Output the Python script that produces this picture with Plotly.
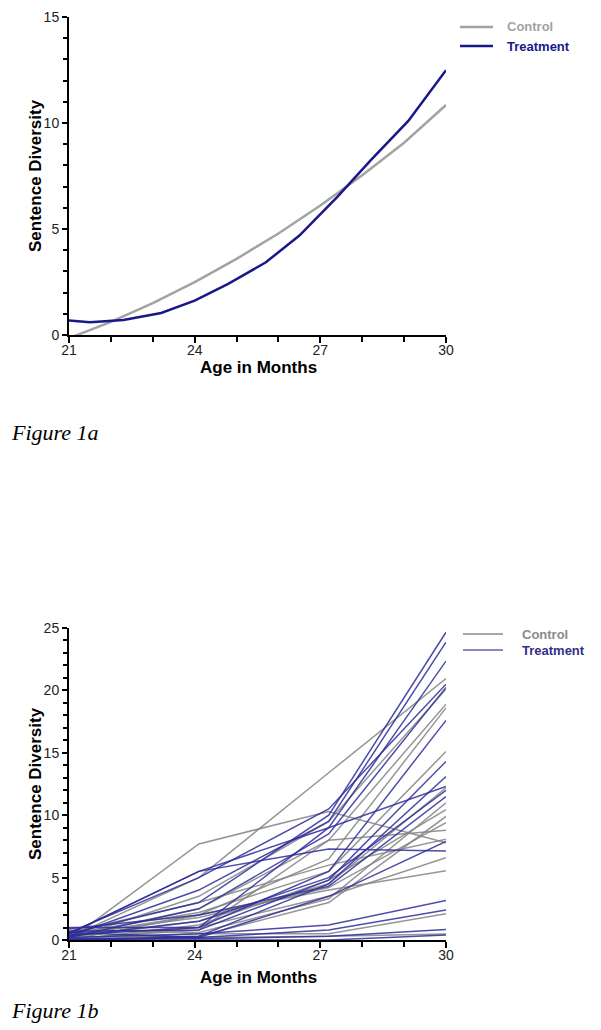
import plotly.graph_objects as go

# ---------------- Figure 1a data ----------------
ctrl_ages_a = [21, 22, 23, 24, 25, 26, 27, 28, 29, 30]
ctrl_vals_a = [-0.15, 0.62, 1.50, 2.49, 3.59, 4.79, 6.11, 7.53, 9.07, 10.85]
trt_ages_a = [21, 21.5, 22.3, 23.2, 24, 24.8, 25.7, 26.5, 27.4, 28.2, 29.1, 30]
trt_vals_a = [0.68, 0.60, 0.71, 1.04, 1.62, 2.41, 3.43, 4.69, 6.5, 8.24, 10.1, 12.49]

# ---------------- Figure 1b data ----------------
ages_b = [21, 24.1, 27.2, 30]
control_children = [
    [0.0, 7.7, 10.3, 7.8],
    [0.2, 5.0, 13.4, 20.95],
    [0.1, 3.5, 9.5, 20.1],
    [0.3, 2.5, 8.0, 18.9],
    [0.0, 2.0, 6.5, 18.6],
    [0.5, 2.2, 5.5, 15.1],
    [0.2, 1.5, 4.5, 12.2],
    [0.0, 1.2, 4.8, 10.45],
    [0.4, 1.8, 4.2, 9.4],
    [0.1, 0.8, 8.0, 8.8],
    [0.6, 3.0, 6.0, 8.07],
    [0.0, 1.0, 3.5, 6.6],
    [0.3, 2.0, 4.0, 5.55],
    [0.0, 0.5, 0.5, 2.1],
    [0.0, 0.2, 0.3, 0.48],
    [0.8, 0.6, 3.3, 11.0],
    [0.2, 0.3, 3.0, 9.9],
]
treatment_children = [
    [0.5, 3.0, 10.0, 24.66],
    [0.3, 4.0, 9.5, 23.86],
    [1.0, 1.0, 9.0, 22.35],
    [0.6, 5.0, 10.5, 20.5],
    [0.2, 2.5, 8.5, 20.24],
    [0.4, 1.0, 5.5, 17.6],
    [0.7, 0.8, 4.8, 14.3],
    [0.0, 0.3, 4.5, 13.1],
    [0.5, 5.5, 9.0, 12.3],
    [0.3, 1.5, 5.0, 12.0],
    [0.9, 2.0, 4.3, 11.5],
    [0.5, 5.5, 7.3, 7.14],
    [0.2, 0.5, 1.2, 3.17],
    [0.0, 0.2, 0.8, 2.4],
    [0.1, 0.1, 0.3, 0.85],
    [0.0, 0.0, 0.0, 0.4],
    [0.6, 0.2, 3.5, 7.9],
]
legend_labels = ["Control", "Treatment"]

W, H = 601, 1030
OFF = 8  # page body margin
def px(x):
    return (x - OFF) / W
def py(y):
    return 1 - (y - OFF) / H

CTRL_A, TRT_A = "#a3a3a3", "#18188a"
CTRL_B, TRT_B = "rgba(130,130,130,0.85)", "rgba(45,45,155,0.85)"

fig = go.Figure()

# Top chart
fig.add_trace(go.Scatter(x=ctrl_ages_a, y=ctrl_vals_a, mode="lines",
                         line=dict(color=CTRL_A, width=2.5), name=legend_labels[0],
                         showlegend=False, xaxis="x", yaxis="y"))
fig.add_trace(go.Scatter(x=trt_ages_a, y=trt_vals_a, mode="lines",
                         line=dict(color=TRT_A, width=2.5), name=legend_labels[1],
                         showlegend=False, xaxis="x", yaxis="y"))

# Bottom chart
for vals in control_children:
    fig.add_trace(go.Scatter(x=ages_b, y=vals, mode="lines",
                             line=dict(color=CTRL_B, width=1.5), name=legend_labels[0],
                             showlegend=False, xaxis="x2", yaxis="y2", hoverinfo="skip"))
for vals in treatment_children:
    fig.add_trace(go.Scatter(x=ages_b, y=vals, mode="lines",
                             line=dict(color=TRT_B, width=1.5), name=legend_labels[1],
                             showlegend=False, xaxis="x2", yaxis="y2", hoverinfo="skip"))

tickfont = dict(family="Liberation Sans, Arial", size=14, color="#222")
common_x = dict(range=[21, 30], tickvals=[21, 24, 27, 30], showline=True, linecolor="black",
                linewidth=2, ticks="outside", ticklen=6, tickwidth=1.5, tickcolor="black",
                minor=dict(ticks="outside", dtick=1, ticklen=5, tickwidth=1.5, tickcolor="black"),
                showgrid=False, zeroline=False, tickfont=tickfont, domain=[px(69), px(446)],
                fixedrange=True, automargin=False, ticklabelstandoff=-5)
common_y = dict(showline=True, linecolor="black", linewidth=2, ticks="outside", ticklen=5,
                tickwidth=1.5, tickcolor="black", showgrid=False, zeroline=False,
                tickfont=tickfont, fixedrange=True, automargin=False)

fig.update_layout(
    width=W, height=H,
    margin=dict(l=0, r=0, t=0, b=0, autoexpand=False),
    paper_bgcolor="white", plot_bgcolor="white",
    showlegend=False,
    xaxis=dict(**common_x, anchor="y"),
    yaxis=dict(**common_y, range=[0, 15], tickvals=[0, 5, 10, 15],
               minor=dict(ticks="outside", dtick=1, ticklen=4, tickwidth=1.5, tickcolor="black"),
               domain=[py(335), py(17)], anchor="x"),
    xaxis2=dict(**common_x, anchor="y2"),
    yaxis2=dict(**common_y, range=[0, 25], tickvals=[0, 5, 10, 15, 20, 25],
                minor=dict(ticks="outside", dtick=1, ticklen=4, tickwidth=1.5, tickcolor="black"),
                domain=[py(940), py(628)], anchor="x2"),
)

# Manual legends (line samples as shapes, labels as text)
shapes = []
legend_items = [
    # (line x0, x1, y, color, width, text x, text color)
    (460, 493, 27, CTRL_A, 2.5, 505, "#a3a3a3", legend_labels[0]),
    (460, 493, 46, TRT_A, 2.5, 505, "#18188a", legend_labels[1]),
    (463, 503, 634, "#8a8a8a", 1.5, 520, "#8a8a8a", legend_labels[0]),
    (463, 503, 650, "#6060b0", 1.5, 520, "#30308a", legend_labels[1]),
]
annots = []
for x0, x1, yy, col, w, tx, tcol, lab in legend_items:
    shapes.append(dict(type="line", xref="paper", yref="paper", x0=px(x0), x1=px(x1),
                       y0=py(yy), y1=py(yy), line=dict(color=col, width=w)))
    annots.append(dict(text="<b>" + lab + "</b>", x=px(tx), y=py(yy), xanchor="left",
                       font=dict(family="Liberation Sans, Arial", size=13, color=tcol)))

title_font = dict(family="Liberation Sans, Arial", size=17, color="black")
annots += [
    dict(text="<b>Sentence Diversity</b>", x=px(35), y=py(176), textangle=-90, font=title_font),
    dict(text="<b>Age in Months</b>", x=px(258), y=py(367), font=title_font),
    dict(text="<b>Sentence Diversity</b>", x=px(35), y=py(784), textangle=-90, font=title_font),
    dict(text="<b>Age in Months</b>", x=px(258), y=py(977), font=title_font),
    dict(text="<i>Figure 1a</i>", x=px(9), y=py(432), xanchor="left",
         font=dict(family="Liberation Serif, Times New Roman", size=22, color="black")),
    dict(text="<i>Figure 1b</i>", x=px(9), y=py(1010), xanchor="left",
         font=dict(family="Liberation Serif, Times New Roman", size=22, color="black")),
]
for a in annots:
    a.update(xref="paper", yref="paper", showarrow=False)
    if "xanchor" not in a:
        a["xanchor"] = "center"
    a["yanchor"] = "middle"
fig.update_layout(annotations=annots, shapes=shapes)

fig.write_html("out.html")
